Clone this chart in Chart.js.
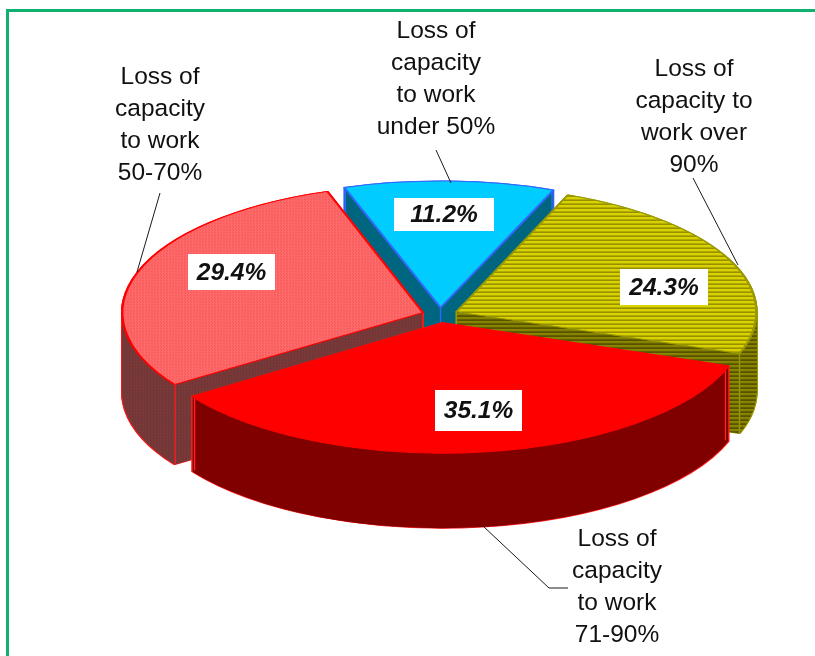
<!DOCTYPE html>
<html>
<head>
<meta charset="utf-8">
<style>html,body{margin:0;padding:0;background:#fff;overflow:hidden}canvas{display:block}</style>
<script src="https://cdn.jsdelivr.net/npm/chart.js@4"></script>
</head>
<body>
<canvas id="c" width="815" height="656"></canvas>
<script>
const categories = ['Loss of capacity to work under 50%','Loss of capacity to work over 90%','Loss of capacity to work 71-90%','Loss of capacity to work 50-70%'];
const values = [11.2, 24.3, 35.1, 29.4];
const categoryLines = [
  ['Loss of','capacity','to work','under 50%'],
  ['Loss of','capacity to','work over','90%'],
  ['Loss of','capacity','to work','71-90%'],
  ['Loss of','capacity','to work','50-70%']
];
const categoryAnchors = [[436,31],[694,69],[617,539],[160,77]];
const valueBoxes = [[394,198,100,33],[620,269,88,36],[435,390,87,41],[188,254,87,36]];
const leaders = [
  [[436,150],[451,183]],
  [[693,178],[738,265]],
  [[483,526],[549,588],[568,588]],
  [[160,193],[137,272]]
];

const TILTS = [0.413,0.42,0.43,0.425], DEPTHS = [78,80,75,80], CX = 440, CY = 315;
const drawOrder = [0,3,1,2];

function stripes(rows){
  const c=document.createElement('canvas');c.width=1;c.height=rows.length;
  const x=c.getContext('2d');rows.forEach((r,i)=>{x.fillStyle=r;x.fillRect(0,i,1,1);});
  return x.createPattern(c,'repeat');
}
function dots(base,dot){
  const c=document.createElement('canvas');c.width=3;c.height=3;
  const x=c.getContext('2d');x.fillStyle=base;x.fillRect(0,0,3,3);x.fillStyle=dot;x.fillRect(0,0,1,1);x.fillRect(1,1,1,1);
  return x.createPattern(c,'repeat');
}
const topFill = ['#00ccff', stripes(['#dcd400','#dcd400','#b8b000','#8c8600']), '#ff0000', dots('#ff6a6a','#f25252')];
const sideFill = ['#006680', stripes(['#8a8600','#8a8600','#666200','#4e4a00']), '#800000', dots('#733636','#843f3f')];
const rimColor = ['#3366ff','#999900','#ff2020','#ff1a1a'];
const topBorder = ['#3366ff','#999900','#ff0000','#ff0000'];

const pie3d = {
  id:'pie3d',
  beforeDraw(chart){
    const ctx=chart.ctx;
    ctx.save();
    ctx.fillStyle='#fff';ctx.fillRect(0,0,chart.width,chart.height);
    ctx.fillStyle='#10b070';
    ctx.fillRect(6,9,3,647);ctx.fillRect(6,9,809,3);
    ctx.restore();
  },
  beforeDatasetsDraw(chart){
    const ctx=chart.ctx, meta=chart.getDatasetMeta(0);
    const withStyle=(el,i,fill,stroke,bw,d)=>{
      const o=el.options;
      ctx.save();
      ctx.translate(CX,CY+d);ctx.scale(1,TILTS[i]);ctx.translate(-el.x,-el.y);
      if(fill instanceof CanvasPattern) fill.setTransform(ctx.getTransform().inverse());
      el.options=Object.assign({},o,{backgroundColor:fill,borderColor:stroke,borderWidth:bw});
      el.draw(ctx,chart.chartArea);
      el.options=o;
      ctx.restore();
    };
    drawOrder.forEach(i=>{
      const el=meta.data[i], D=DEPTHS[i];
      for(let d=D;d>=0;d-=1) withStyle(el,i,rimColor[i],rimColor[i],2.4,d);
      for(let d=D;d>0;d-=1) withStyle(el,i,sideFill[i],sideFill[i],0,d);
      const o=el.options, mid=(el.startAngle+el.endAngle)/2, off=(o.offset||0)/4;
      const ox=Math.cos(mid)*off, oy=Math.sin(mid)*off;
      const pts=[[ox,oy],[ox+Math.cos(el.startAngle)*el.outerRadius,oy+Math.sin(el.startAngle)*el.outerRadius],[ox+Math.cos(el.endAngle)*el.outerRadius,oy+Math.sin(el.endAngle)*el.outerRadius]];
      ctx.save();ctx.strokeStyle=rimColor[i];ctx.lineWidth=1.3;
      pts.forEach(p=>{ctx.beginPath();ctx.moveTo(CX+p[0],CY+p[1]*TILTS[i]);ctx.lineTo(CX+p[0],CY+p[1]*TILTS[i]+D);ctx.stroke();});
      ctx.restore();
      withStyle(el,i,topFill[i],topBorder[i],2.4,0);
    });
    return false;
  },
  afterDraw(chart){
    const ctx=chart.ctx;
    ctx.save();
    ctx.strokeStyle='#1a1a1a';ctx.lineWidth=1;
    leaders.forEach(l=>{ctx.beginPath();l.forEach((p,j)=>j?ctx.lineTo(p[0],p[1]):ctx.moveTo(p[0],p[1]));ctx.stroke();});
    ctx.textAlign='center';ctx.textBaseline='middle';
    ctx.fillStyle='#111';ctx.font='24.5px "Liberation Sans", Arial, sans-serif';
    categoryLines.forEach((lines,i)=>lines.forEach((t,j)=>ctx.fillText(t,categoryAnchors[i][0],categoryAnchors[i][1]+j*32)));
    values.forEach((v,i)=>{
      const b=valueBoxes[i];
      ctx.fillStyle='#fff';ctx.fillRect(b[0],b[1],b[2],b[3]);
      ctx.fillStyle='#111';ctx.font='italic bold 24.5px "Liberation Sans", Arial, sans-serif';
      ctx.fillText(v.toFixed(1)+'%',b[0]+b[2]/2,b[1]+b[3]/2+1);
    });
    ctx.restore();
  }
};

new Chart(document.getElementById('c'),{
  type:'pie',
  data:{labels:categories,datasets:[{data:values,backgroundColor:topFill,borderColor:topBorder,offset:72,borderWidth:2}]},
  options:{
    responsive:false,animation:false,rotation:-18.5,radius:300,
    plugins:{legend:{display:false},tooltip:{enabled:false}}
  },
  plugins:[pie3d]
});
</script>
</body>
</html>
